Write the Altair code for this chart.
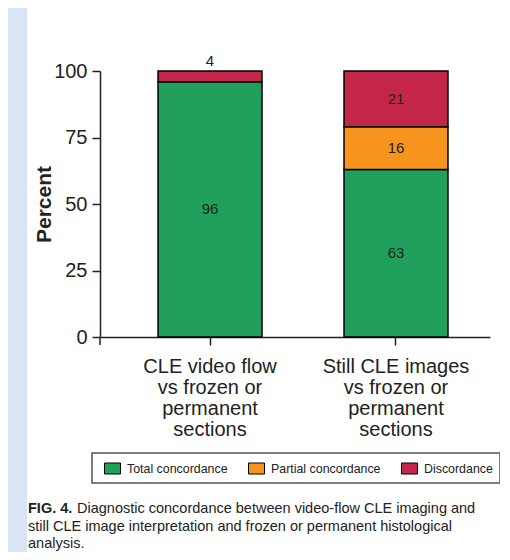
import altair as alt
import pandas as pd

categories = [
    "CLE video flow\nvs frozen or\npermanent\nsections",
    "Still CLE images\nvs frozen or\npermanent\nsections",
]
series = ["Total concordance", "Partial concordance", "Discordance"]
total_vals = [96, 63]
partial_vals = [0, 16]
discord_vals = [4, 21]
colors = ["#21a05b", "#f7941d", "#c4264a"]
y_ticks = [0, 25, 50, 75, 100]
caption_bold = "FIG. 4."
caption_lines = [
    "Diagnostic concordance between video-flow CLE imaging and",
    "still CLE image interpretation and frozen or permanent histological",
    "analysis.",
]

rows = []
for i, cat in enumerate(categories):
    start = 0
    for s, vals in zip(series, [total_vals, partial_vals, discord_vals]):
        v = vals[i]
        if v > 0:
            rows.append({"cat": cat, "series": s, "value": v,
                         "start": start, "end": start + v,
                         "mid": start + v / 2})
        start += v
df = pd.DataFrame(rows)

W, H = 390, 266
PAD_L, PAD_T, PAD_R, PAD_B = 92, 63, 10, 215
TXT = "#222222"

xscale = alt.Scale(domain=categories, paddingInner=0.441, paddingOuter=0.269, align=0.58)
x_enc = alt.X("cat:N", sort=categories, scale=xscale,
              axis=alt.Axis(title=None, labelAngle=0, labelFontSize=20,
                            labelLineHeight=21, labelColor=TXT,
                            labelExpr="split(datum.label, '\\n')",
                            labelPadding=11, tickSize=8, tickWidth=1.5,
                            tickColor=TXT, domainColor=TXT, domainWidth=1.5,
                            grid=False))

band = alt.Chart(pd.DataFrame({"a": [0]})).mark_rect(color="#d9e5f4").encode(
    x=alt.value(-PAD_L), x2=alt.value(-73), y=alt.value(-PAD_T), y2=alt.value(H + PAD_B)
)

bars = alt.Chart(df).mark_bar(stroke="black", strokeWidth=1.5, opacity=1).encode(
    x=x_enc,
    y=alt.Y("start:Q", scale=alt.Scale(domain=[0, 100], nice=False),
            axis=alt.Axis(values=y_ticks, title="Percent", titleFontSize=21,
                          titleFontWeight="bold", titleColor=TXT, titleAngle=-90,
                          titleX=-50, titleY=H / 2, titleAlign="center",
                          titleBaseline="alphabetic",
                          labelFontSize=20, labelColor=TXT, labelPadding=5,
                          tickSize=8, tickWidth=1.5, tickColor=TXT,
                          domainColor=TXT, domainWidth=1.5, grid=False)),
    y2="end:Q",
    color=alt.Color("series:N", scale=alt.Scale(domain=series, range=colors),
                    legend=alt.Legend(title=None, orient="none", legendX=-8, legendY=382,
                                      direction="horizontal", columns=3,
                                      columnPadding=15, padding=7,
                                      strokeColor="#555555", fillColor="white",
                                      symbolType="M-1,-0.6875H1V0.6875H-1Z",
                                      symbolSize=256, symbolStrokeColor="black",
                                      symbolStrokeWidth=1, symbolOffset=5,
                                      symbolOpacity=1, labelFontSize=12.4,
                                      labelColor=TXT, labelOffset=6)),
)

mid_labels = alt.Chart(df).transform_filter("datum.value >= 8").mark_text(
    fontSize=15, color=TXT, baseline="middle").encode(
    x=alt.X("cat:N", sort=categories, scale=xscale),
    y=alt.Y("mid:Q"),
    text="value:Q",
)
top_labels = alt.Chart(df).transform_filter("datum.value < 8").mark_text(
    fontSize=15, color=TXT, baseline="alphabetic", dy=-5).encode(
    x=alt.X("cat:N", sort=categories, scale=xscale),
    y=alt.Y("end:Q"),
    text="value:Q",
)

corner = alt.Chart(pd.DataFrame({"a": [0]})).mark_rule(color=TXT, strokeWidth=1.5).encode(
    x=alt.value(0), y=alt.value(H), y2=alt.value(H + 8)
)

cap_bold = alt.Chart(pd.DataFrame({"t": [caption_bold]})).mark_text(
    align="left", baseline="alphabetic", fontSize=14.5, fontWeight="bold", color=TXT).encode(
    x=alt.value(-72), y=alt.value(442), text="t:N")
cap_layers = []
for i, line in enumerate(caption_lines):
    cap_layers.append(
        alt.Chart(pd.DataFrame({"t": [line]})).mark_text(
            align="left", baseline="alphabetic", fontSize=14.5, color=TXT).encode(
            x=alt.value(-23 if i == 0 else -72), y=alt.value(442 + 17.5 * i), text="t:N")
    )

chart = alt.layer(band, bars, mid_labels, top_labels, corner, cap_bold, *cap_layers).properties(
    width=W, height=H,
    autosize=alt.AutoSizeParams(type="none"),
    padding={"left": PAD_L, "top": PAD_T, "right": PAD_R, "bottom": PAD_B},
    background="white",
).configure(font="Liberation Sans").configure_view(stroke=None).configure_legend(strokeWidth=1.5)

chart.save("out.html", embed_options={"renderer": "svg", "actions": False})
